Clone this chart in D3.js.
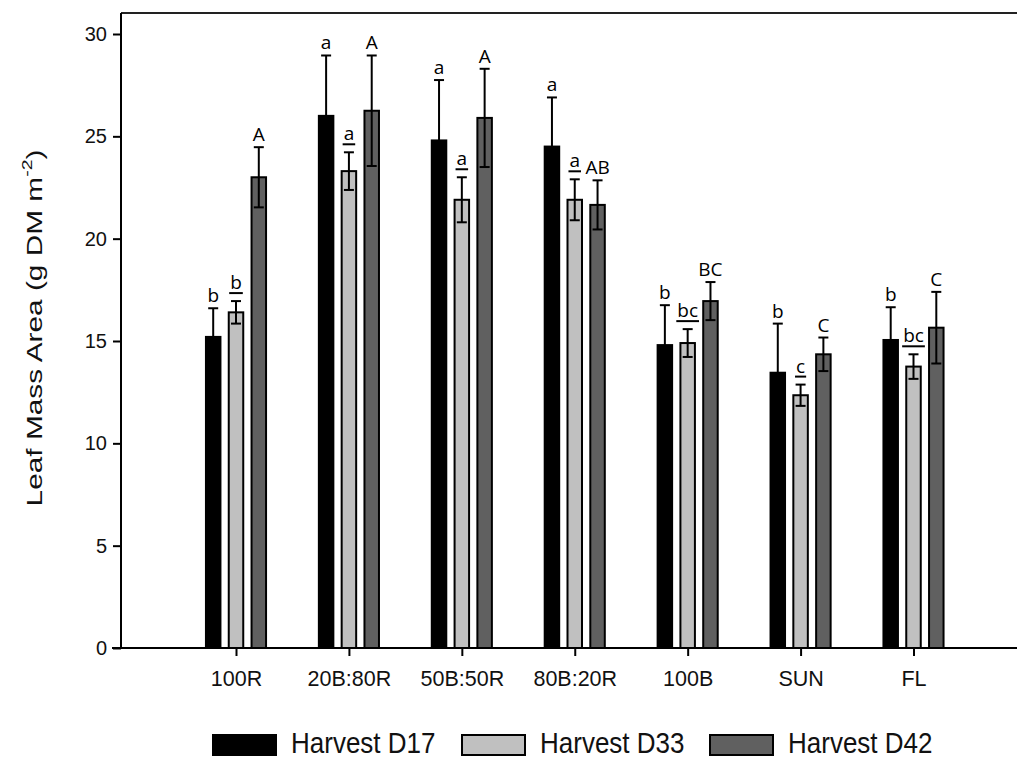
<!DOCTYPE html>
<html>
<head>
<meta charset="utf-8">
<script src="https://cdn.jsdelivr.net/npm/d3@7"></script>
<style>
  html, body { margin: 0; padding: 0; background: #fff; }
  svg { display: block; }
</style>
</head>
<body>
<svg id="chart" width="1017" height="759"></svg>
<script>
// Treatments (light regimes)
const categories = ["100R", "20B:80R", "50B:50R", "80B:20R", "100B", "SUN", "FL"];

// Series: mean leaf mass area and standard error per harvest
const seriesNames = ["Harvest D17", "Harvest D33", "Harvest D42"];
const d17 = [15.2, 26.0, 24.8, 24.5, 14.8, 13.45, 15.05];
const d17Err = [1.4, 2.95, 2.95, 2.4, 1.95, 2.4, 1.6];
const d33 = [16.4, 23.3, 21.9, 21.9, 14.9, 12.35, 13.75];
const d33Err = [0.55, 0.92, 1.1, 1.0, 0.68, 0.52, 0.6];
const d42 = [23.0, 26.25, 25.9, 21.65, 16.95, 14.35, 15.65];
const d42Err = [1.47, 2.7, 2.4, 1.2, 0.93, 0.82, 1.75];

// Significance letters
const d17Letters = ["b", "a", "a", "a", "b", "b", "b"];
const d33Letters = ["b", "a", "a", "a", "bc", "c", "bc"];
const d42Letters = ["A", "A", "A", "AB", "BC", "C", "C"];

const yTicks = [0, 5, 10, 15, 20, 25, 30];

const fills = ["#000000", "#c0c0c0", "#606060"];
const series = [
  { name: seriesNames[0], values: d17, errs: d17Err, letters: d17Letters, underline: false },
  { name: seriesNames[1], values: d33, errs: d33Err, letters: d33Letters, underline: true },
  { name: seriesNames[2], values: d42, errs: d42Err, letters: d42Letters, underline: false }
];

const svg = d3.select("#chart");
const axisLeft = 121, plotTop = 13, plotRight = 1017, plotBottom = 648;

const x = d3.scalePoint().domain(categories).range([236, 913.5]);
const y = d3.scaleLinear().domain([0, 30]).range([648, 34]);
const offset = d3.scalePoint().domain(d3.range(series.length)).range([-22.8, 22.8]);
const barW = 14.5;

// Frame: top border and axis lines
svg.append("line").attr("x1", axisLeft).attr("x2", plotRight)
  .attr("y1", plotTop).attr("y2", plotTop)
  .attr("stroke", "#222").attr("stroke-width", 2);

// Y axis
const yAxis = svg.append("g")
  .attr("transform", `translate(${axisLeft},0)`)
  .call(d3.axisLeft(y).tickValues(yTicks).tickSize(8).tickSizeOuter(0).tickPadding(6));
yAxis.select(".domain").attr("d", `M0,${plotTop}V${plotBottom}`).attr("stroke", "#000").attr("stroke-width", 2);
yAxis.selectAll(".tick line").attr("stroke", "#000").attr("stroke-width", 2);
yAxis.selectAll(".tick text")
  .attr("font-family", "'Liberation Sans', Arial, sans-serif")
  .attr("font-size", 20).attr("fill", "#111");

// X axis
const xAxis = svg.append("g")
  .attr("transform", `translate(0,${plotBottom})`)
  .call(d3.axisBottom(x).tickSize(8).tickSizeOuter(0).tickPadding(15));
xAxis.select(".domain").attr("d", `M${axisLeft - 9},0H${plotRight}`).attr("stroke", "#000").attr("stroke-width", 2);
xAxis.selectAll(".tick line").attr("stroke", "#000").attr("stroke-width", 2);
xAxis.selectAll(".tick text")
  .attr("font-family", "'Liberation Sans', Arial, sans-serif")
  .attr("font-size", 21.5).attr("fill", "#111");

// Y axis title, stretched along its length
const titleG = svg.append("g").attr("transform", "translate(42,328) rotate(-90)");
const title = titleG.append("text")
  .attr("text-anchor", "middle")
  .attr("font-family", "'Liberation Sans', Arial, sans-serif")
  .attr("font-size", 23).attr("fill", "#111");
title.append("tspan").text("Leaf Mass Area (g DM m");
title.append("tspan").attr("font-size", 15).attr("dy", -10).text("-2");
title.append("tspan").attr("dy", 10).text(")");
const tw = title.node().getComputedTextLength();
title.attr("transform", `scale(${357 / tw},1)`);

// Bars, error bars and letters
series.forEach((s, si) => {
  const g = svg.append("g");
  const cx = c => x(c) + offset(si);
  const rows = categories.map((c, i) => ({ c, v: s.values[i], e: s.errs[i], l: s.letters[i] }));

  g.selectAll("rect").data(rows).join("rect")
    .attr("x", d => cx(d.c) - barW / 2)
    .attr("y", d => y(d.v))
    .attr("width", barW)
    .attr("height", d => y(0) - y(d.v))
    .attr("fill", fills[si])
    .attr("stroke", "#000").attr("stroke-width", 2);

  g.selectAll("line.err").data(rows).join("line").attr("class", "err")
    .attr("x1", d => cx(d.c)).attr("x2", d => cx(d.c))
    .attr("y1", d => y(d.v - d.e)).attr("y2", d => y(d.v + d.e))
    .attr("stroke", "#000").attr("stroke-width", 2);
  g.selectAll("line.capTop").data(rows).join("line").attr("class", "capTop")
    .attr("x1", d => cx(d.c) - 5).attr("x2", d => cx(d.c) + 5)
    .attr("y1", d => y(d.v + d.e)).attr("y2", d => y(d.v + d.e))
    .attr("stroke", "#000").attr("stroke-width", 2);
  g.selectAll("line.capBot").data(rows).join("line").attr("class", "capBot")
    .attr("x1", d => cx(d.c) - 5).attr("x2", d => cx(d.c) + 5)
    .attr("y1", d => y(d.v - d.e)).attr("y2", d => y(d.v - d.e))
    .attr("stroke", "#000").attr("stroke-width", 2);

  const lift = s.underline ? 12 : 6;
  const labels = g.selectAll("text").data(rows).join("text")
    .attr("x", d => cx(d.c))
    .attr("y", d => y(d.v + d.e) - lift)
    .attr("text-anchor", "middle")
    .attr("font-family", "'Open Sans', sans-serif")
    .attr("font-size", 19).attr("fill", "#000")
    .text(d => d.l);

  if (s.underline) {
    labels.each(function (d) {
      const w = this.getComputedTextLength();
      g.append("line")
        .attr("x1", cx(d.c) - w / 2 - 1).attr("x2", cx(d.c) + w / 2 + 1)
        .attr("y1", y(d.v + d.e) - 8).attr("y2", y(d.v + d.e) - 8)
        .attr("stroke", "#000").attr("stroke-width", 2);
    });
  }
});

// Legend
const legendX = [212, 461, 709];
const legend = svg.append("g");
series.forEach((s, si) => {
  legend.append("rect")
    .attr("x", legendX[si] + 1).attr("y", 735)
    .attr("width", 63).attr("height", 20)
    .attr("fill", fills[si]).attr("stroke", "#000").attr("stroke-width", 2);
  legend.append("text")
    .attr("x", legendX[si] + 79).attr("y", 753)
    .attr("font-family", "'Liberation Sans', Arial, sans-serif")
    .attr("font-size", 26).attr("fill", "#111")
    .attr("transform", `translate(${legendX[si] + 79},753) scale(1,1.1) translate(${-(legendX[si] + 79)},-753)`)
    .text(s.name);
});
</script>
</body>
</html>
